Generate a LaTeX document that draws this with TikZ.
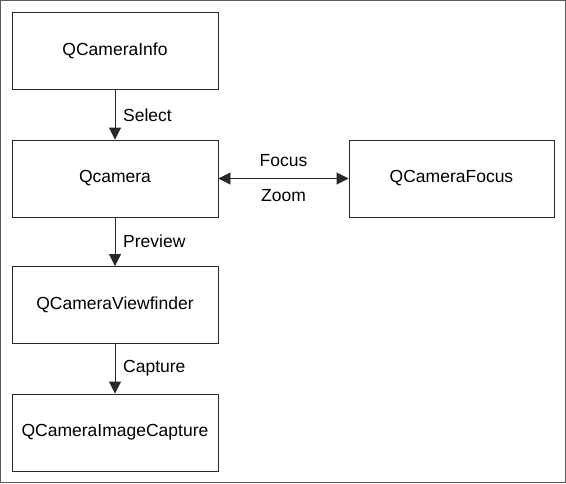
\documentclass[tikz,border=0pt]{standalone}
\usepackage{fontspec}
\setmainfont{Liberation Sans}
\usetikzlibrary{arrows.meta}
\definecolor{framegray}{RGB}{90, 90, 90}
\definecolor{linegray}{RGB}{40, 40, 40}

\begin{document}
\begin{tikzpicture}[x=1pt, y=-1pt,
    box/.style={rectangle, draw=linegray, line width=0.9pt, minimum width=206pt,
               minimum height=77pt, inner sep=0pt, font=\fontsize{17.5}{20}\selectfont},
    lbl/.style={font=\fontsize{17.5}{20}\selectfont, inner sep=0pt},
    arrow/.style={-{Triangle[length=12pt, width=12pt]}, line width=0.9pt, linegray},
    twoway/.style={{Triangle[length=12pt, width=12pt]}-{Triangle[length=12pt, width=12pt]},
                  line width=0.9pt, linegray}
]
    \useasboundingbox (0,0) rectangle (566,483);
    % Frame
    \draw[framegray, line width=1pt] (0.5,0.5) rectangle (565.5,482.5);

    % Classes
    \node[box] (info) at (115,51) {QCameraInfo};
    \node[box] (camera) at (115,178.5) {Qcamera};
    \node[box] (viewfinder) at (115,305) {QCameraViewfinder};
    \node[box] (capture) at (115,432.5) {QCameraImageCapture};
    \node[box, minimum width=205pt] (focus) at (451.5,178.5) {QCameraFocus};

    % Arrows
    \draw[arrow] (info) -- (camera);
    \draw[arrow] (camera) -- (viewfinder);
    \draw[arrow] (viewfinder) -- (capture);
    \draw[twoway] (camera) -- (focus);

    % Labels
    \node[lbl, anchor=west] (select) at (123,115) {Select};
    \node[lbl, anchor=west] (preview) at (123,241) {Preview};
    \node[lbl, anchor=west] (capt) at (123,368) {Capture};
    \node[lbl] (focuslbl) at (283.5,161) {Focus};
    \node[lbl] (zoomlbl) at (283.5,196) {Zoom};
\end{tikzpicture}
\end{document}
